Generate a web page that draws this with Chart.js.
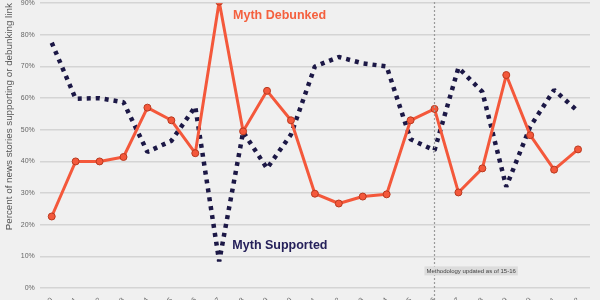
<!DOCTYPE html>
<html>
<head>
<meta charset="utf-8">
<script src="https://cdn.jsdelivr.net/npm/chart.js@4"></script>
<style>
  html, body { margin: 0; padding: 0; background: #f0f0f0; overflow: hidden; }
  #wrap { position: relative; top: -6px; width: 600px; height: 306px; }
</style>
</head>
<body>
<div id="wrap"><canvas id="chart"></canvas></div>
<script>
const seasons = ["99-00", "00-01", "01-02", "02-03", "03-04", "04-05", "05-06", "06-07",
  "07-08", "08-09", "09-10", "10-11", "11-12", "12-13", "13-14", "14-15", "15-16",
  "16-17", "17-18", "18-19", "19-20", "20-21", "21-22"];

const mythDebunked = [22.6, 40, 40, 41.4, 57, 53, 42.6, 90.5, 49.5, 62.3, 53, 29.8, 26.7,
  28.9, 29.6, 53, 56.6, 30.2, 37.8, 67.3, 48.3, 37.4, 43.8];

const mythSupported = [77.5, 59.8, 60, 58.7, 43, 46.5, 57.3, 8.4, 49.3, 37.8, 48.5, 70,
  73, 71, 70, 47, 43.5, 69.6, 62, 32, 51, 62.6, 55.8];

const yTicks = [0, 10, 20, 30, 40, 50, 60, 70, 80, 90];

const methodologyIndex = 16;

const annotations = {
  id: "annotations",
  afterDatasetsDraw(chart) {
    const ctx = chart.ctx;
    const x = chart.scales.x;
    const y = chart.scales.y;

    // methodology change line
    const lx = x.getPixelForValue(methodologyIndex);
    ctx.save();
    ctx.strokeStyle = "#9a9a9a";
    ctx.lineWidth = 1.2;
    ctx.setLineDash([2, 2]);
    ctx.beginPath();
    ctx.moveTo(lx, 0);
    ctx.lineTo(lx, chart.height);
    ctx.stroke();
    ctx.setLineDash([]);

    // methodology label
    ctx.font = "6px 'Liberation Sans', Arial, sans-serif";
    const txt = "Methodology updated as of 15-16";
    const w = ctx.measureText(txt).width + 4;
    const bx = x.getPixelForValue(15.58);
    const by = y.getPixelForValue(5.4);
    ctx.fillStyle = "#dcdcdc";
    ctx.fillRect(bx, by - 4.5, w, 9);
    ctx.fillStyle = "#444";
    ctx.textBaseline = "middle";
    ctx.textAlign = "left";
    ctx.fillText(txt, bx + 2, by);

    // series labels
    ctx.font = "bold 12.5px 'Liberation Sans', Arial, sans-serif";
    ctx.fillStyle = "#f4603e";
    ctx.fillText("Myth Debunked", x.getPixelForValue(7.58), y.getPixelForValue(86.2));
    ctx.fillStyle = "#25205a";
    ctx.fillText("Myth Supported", x.getPixelForValue(7.55), y.getPixelForValue(13.3));
    ctx.restore();
  }
};

new Chart(document.getElementById("chart"), {
  type: "line",
  data: {
    labels: seasons,
    datasets: [
      {
        label: "Myth Debunked",
        data: mythDebunked,
        borderColor: "#f4583b",
        borderWidth: 3,
        pointRadius: 3.5,
        pointBackgroundColor: "#f4583b",
        pointBorderColor: "#b8391f",
        pointBorderWidth: 1,
        borderJoinStyle: "round",
        tension: 0
      },
      {
        label: "Myth Supported",
        data: mythSupported,
        borderColor: "#1c1846",
        borderWidth: 4.5,
        borderDash: [4, 5],
        borderCapStyle: "butt",
        borderJoinStyle: "bevel",
        pointRadius: 0,
        tension: 0
      }
    ]
  },
  plugins: [annotations],
  options: {
    responsive: true,
    maintainAspectRatio: false,
    animation: false,
    layout: { padding: { left: 0, right: 10, top: 0, bottom: 0 } },
    plugins: {
      legend: { display: false },
      tooltip: { enabled: false }
    },
    scales: {
      x: {
        offset: true,
        grid: { display: false },
        border: { display: false },
        ticks: {
          color: "#666",
          font: { size: 7, family: "'Liberation Sans', Arial, sans-serif" },
          minRotation: 45,
          maxRotation: 45,
          autoSkip: false,
          padding: 0
        },
        afterFit(scale) { scale.height = 12; }
      },
      y: {
        min: 0,
        max: 90,
        afterBuildTicks(scale) { scale.ticks = yTicks.map(v => ({ value: v })); },
        grid: { color: "#d4d4d4", lineWidth: 1.5, drawTicks: false },
        border: { display: false },
        ticks: {
          color: "#666",
          padding: 5,
          font: { size: 7, family: "'Liberation Sans', Arial, sans-serif" },
          callback: v => v + "%"
        },
        title: {
          display: true,
          align: "end",
          text: "Percent of news stories supporting or debunking link",
          color: "#555",
          padding: { top: 3, bottom: 1 },
          font: { size: 9.8, family: "'Liberation Sans', Arial, sans-serif" }
        }
      }
    }
  }
});
</script>
</body>
</html>
